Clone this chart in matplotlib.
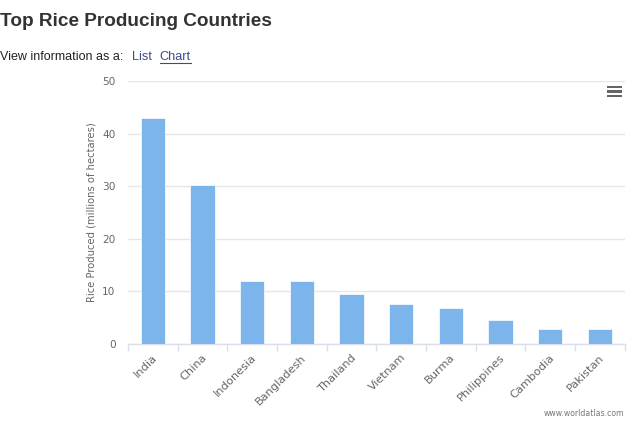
import matplotlib
matplotlib.use("Agg")
import matplotlib.pyplot as plt
from matplotlib.patches import Rectangle

countries = ["India", "China", "Indonesia", "Bangladesh", "Thailand",
             "Vietnam", "Burma", "Philippines", "Cambodia", "Pakistan"]
rice = [43, 30.3, 12, 11.9, 9.6, 7.6, 6.8, 4.5, 2.8, 2.8]
y_ticks = [0, 10, 20, 30, 40, 50]

W, H = 640, 422
left, right, top, bottom = 128, 624.5, 81, 344

fig = plt.figure(figsize=(W / 100, H / 100), dpi=100)
ax = fig.add_axes([left / W, 1 - bottom / H, (right - left) / W, (bottom - top) / H])

ax.bar(range(len(countries)), rice, width=0.49, color="#7cb5ec",
       edgecolor="white", linewidth=0.5, zorder=3)
ax.set_xlim(-0.5, len(countries) - 0.5)
ax.set_ylim(0, 50)

ax.set_yticks(y_ticks)
ax.set_yticklabels(y_ticks, fontsize=7.6, color="#666666", family="DejaVu Sans")
ax.tick_params(axis="y", length=0, pad=9)
ax.grid(axis="y", color="#e6e6e6", linewidth=1, zorder=0)
ax.set_axisbelow(True)

# ticks sit between the categories
ax.set_xticks([i - 0.5 for i in range(len(countries) + 1)])
ax.set_xticklabels([])
ax.tick_params(axis="x", length=5, width=1, color="#d8dfe8")
for i, name in enumerate(countries):
    ax.annotate(name, xy=(i, 0), xycoords=("data", "axes fraction"),
                xytext=(-0.5, -6), textcoords="offset points", rotation=45,
                rotation_mode="anchor", ha="right", va="top", fontsize=8.2,
                color="#666666", family="DejaVu Sans")

for side in ["top", "right", "left"]:
    ax.spines[side].set_visible(False)
ax.spines["bottom"].set_color("#d8dfe8")
ax.spines["bottom"].set_linewidth(1)

fig.text(91 / W, 1 - 212 / H, "Rice Produced (millions of hectares)", rotation=90,
         ha="center", va="center", fontsize=7.2, color="#666666", family="DejaVu Sans")

fig.text(0, 1 - 21.5 / H, "Top Rice Producing Countries", fontsize=13.7,
         fontweight="bold", color="#333333", family="Liberation Sans", va="center")
fig.text(0, 1 - 57 / H, "View information as a:", fontsize=9, color="#222222",
         family="Liberation Sans", va="center")
fig.text(132 / W, 1 - 57 / H, "List", fontsize=9.2, color="#3b4a8c",
         family="Liberation Sans", va="center")
fig.text(159.5 / W, 1 - 57 / H, "Chart", fontsize=9.2, color="#3b4a8c",
         family="Liberation Sans", va="center")
fig.add_artist(plt.Line2D([159.5 / W, 190.5 / W], [1 - 63 / H] * 2, color="#3b4a8c", lw=0.8))

fig.text(624 / W, 1 - 414 / H, "www.worldatlas.com", fontsize=5.6, color="#777777",
         family="DejaVu Sans", ha="right", va="center")

# menu icon
for y in [88, 92.5, 97]:
    fig.add_artist(Rectangle((607 / W, 1 - y / H), 15 / W, 2.4 / H,
                             transform=fig.transFigure, color="#666666", lw=0))

fig.savefig("out.png", dpi=100)
